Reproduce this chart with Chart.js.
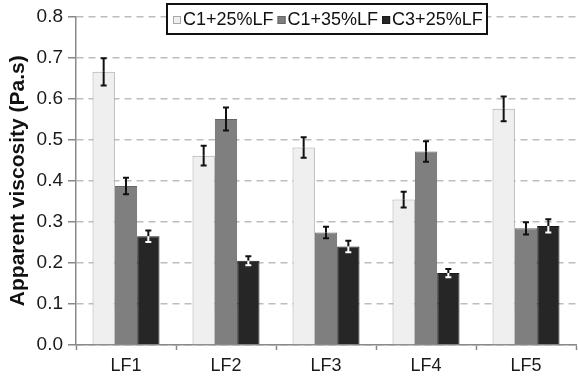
<!DOCTYPE html>
<html>
<head>
<meta charset="utf-8">
<script src="https://cdn.jsdelivr.net/npm/chart.js@4"></script>
<style>
  body { margin: 0; background: #fff; }
</style>
</head>
<body>
<canvas id="viscChart" width="578" height="382"></canvas>
<script>
const categories = ["LF1", "LF2", "LF3", "LF4", "LF5"];

const c1_25 = [0.665, 0.461, 0.481, 0.354, 0.575];
const c1_25Err = [0.033, 0.024, 0.025, 0.019, 0.030];

const c1_35 = [0.387, 0.550, 0.274, 0.471, 0.284];
const c1_35Err = [0.020, 0.028, 0.014, 0.025, 0.015];

const c3_25 = [0.265, 0.205, 0.240, 0.175, 0.290];
const c3_25Err = [0.014, 0.011, 0.014, 0.010, 0.016];

const FONT = "'Liberation Sans', Arial, sans-serif";

// error bars: black above the bar top, optionally another colour inside the bar
const errorBars = {
  id: "errorBars",
  afterDatasetsDraw(chart) {
    const ctx = chart.ctx;
    const y = chart.scales.y;
    chart.data.datasets.forEach((ds, i) => {
      const meta = chart.getDatasetMeta(i);
      meta.data.forEach((bar, j) => {
        const v = ds.data[j], e = ds.errors[j];
        const top = y.getPixelForValue(v + e);
        const mid = y.getPixelForValue(v);
        const bot = y.getPixelForValue(v - e);
        const x = bar.x;
        ctx.save();
        ctx.lineWidth = 2;
        ctx.strokeStyle = "#111";
        ctx.beginPath();
        ctx.moveTo(x, top); ctx.lineTo(x, mid);
        ctx.moveTo(x - 3, top); ctx.lineTo(x + 3, top);
        ctx.stroke();
        ctx.strokeStyle = ds.errInside || "#111";
        ctx.beginPath();
        ctx.moveTo(x, mid); ctx.lineTo(x, bot);
        ctx.moveTo(x - 3, bot); ctx.lineTo(x + 3, bot);
        ctx.stroke();
        ctx.restore();
      });
    });
  }
};

// boxed legend in one row over the top of the plot
const boxLegend = {
  id: "boxLegend",
  afterDraw(chart) {
    const ctx = chart.ctx;
    const bx = 167, by = 4, bw = 320, bh = 30;
    ctx.save();
    ctx.fillStyle = "#fff";
    ctx.fillRect(bx, by, bw, bh);
    ctx.lineWidth = 2;
    ctx.strokeStyle = "#111";
    ctx.strokeRect(bx, by, bw, bh);
    ctx.font = "18px " + FONT;
    ctx.textBaseline = "middle";
    let x = bx + 6;
    const cy = by + bh / 2 + 1;
    chart.data.datasets.forEach(ds => {
      ctx.fillStyle = ds.backgroundColor;
      ctx.fillRect(x, cy - 4, 8, 8);
      ctx.lineWidth = 1;
      ctx.strokeStyle = ds.borderColor;
      ctx.strokeRect(x + 0.5, cy - 3.5, 7, 7);
      ctx.fillStyle = "#111";
      ctx.fillText(ds.label, x + 10, cy);
      x += 10 + ctx.measureText(ds.label).width + 4;
    });
    ctx.restore();
  }
};

new Chart(document.getElementById("viscChart"), {
  type: "bar",
  data: {
    labels: categories,
    datasets: [
      {
        label: "C1+25%LF",
        data: c1_25,
        errors: c1_25Err,
        backgroundColor: "#efefef",
        borderColor: "#a8a8a8",
        borderWidth: 1,
      },
      {
        label: "C1+35%LF",
        data: c1_35,
        errors: c1_35Err,
        backgroundColor: "#7f7f7f",
        borderColor: "#666666",
        borderWidth: 1,
      },
      {
        label: "C3+25%LF",
        data: c3_25,
        errors: c3_25Err,
        errInside: "#ffffff",
        backgroundColor: "#262626",
        borderColor: "#1a1a1a",
        borderWidth: 1,
      },
    ],
  },
  options: {
    responsive: false,
    animation: false,
    layout: { padding: { top: 9, right: 2, left: 0, bottom: 0 } },
    datasets: {
      bar: { categoryPercentage: 0.67, barPercentage: 1.0 },
    },
    plugins: {
      legend: { display: false },
      tooltip: { enabled: false },
    },
    scales: {
      x: {
        grid: {
          offset: true,
          drawOnChartArea: false,
          tickLength: 5,
          tickColor: "#888",
          tickWidth: 1.5,
        },
        border: { color: "#8a8a8a", width: 1.5 },
        ticks: { font: { family: FONT, size: 18 }, color: "#1a1a1a", padding: 5 },
        afterFit(scale) { scale.height = 37; },
      },
      y: {
        min: 0,
        max: 0.8,
        ticks: {
          stepSize: 0.1,
          font: { family: FONT, size: 19 },
          color: "#1a1a1a",
          padding: 5,
          callback: v => v.toFixed(1),
        },
        grid: {
          color: "#bdbdbd",
          lineWidth: 1.5,
          tickLength: 8,
          tickColor: "#888",
          tickBorderDash: [],
        },
        border: { color: "#8a8a8a", width: 1.5, dash: [7, 5] },
        title: {
          display: true,
          text: "Apparent viscosity (Pa.s)",
          font: { family: FONT, size: 21, weight: "bold" },
          color: "#111",
          padding: { top: 6, bottom: 0 },
        },
        afterFit(scale) { scale.width = 76; },
      },
    },
  },
  plugins: [errorBars, boxLegend],
});
</script>
</body>
</html>
